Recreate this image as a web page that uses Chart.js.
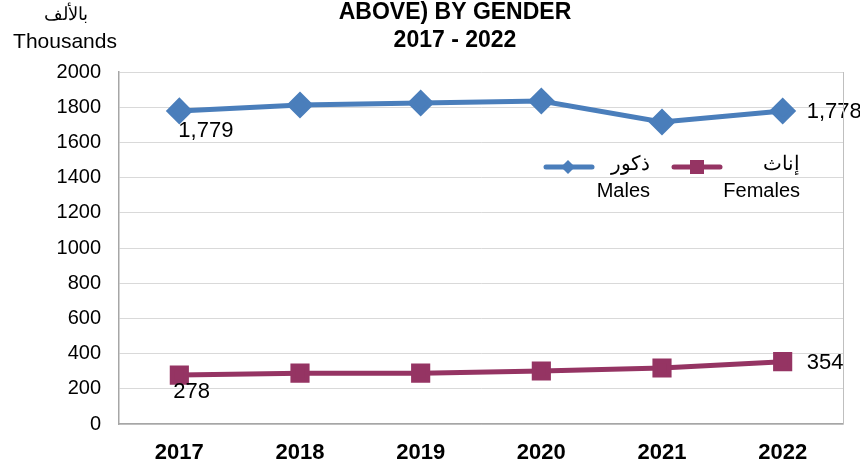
<!DOCTYPE html>
<html>
<head>
<meta charset="utf-8">
<script src="https://cdn.jsdelivr.net/npm/chart.js@4/dist/chart.umd.min.js"></script>
<style>
  body { margin: 0; background: #fff; }
  #wrap { width: 860px; height: 465px; }
</style>
</head>
<body>
<div id="wrap"><canvas id="chart"></canvas></div>
<script>
const years = ["2017", "2018", "2019", "2020", "2021", "2022"];
const males = [1779, 1812, 1824, 1835, 1716, 1778];
const females = [278, 289, 289, 301, 318, 354];
const yTicks = [0, 200, 400, 600, 800, 1000, 1200, 1400, 1600, 1800, 2000];

const maleColor = "#4a7ebb";
const femaleColor = "#953463";
const FONT = "'Liberation Sans', Arial, sans-serif";

// Title, unit label, legend and end-point labels
const overlay = {
    id: "overlay",
    afterDraw(chart) {
        const ctx = chart.ctx;
        ctx.save();
        ctx.fillStyle = "#000";
        ctx.textBaseline = "middle";

        ctx.textAlign = "center";
        ctx.font = "bold 23px " + FONT;
        ctx.fillText("ABOVE) BY GENDER", 455, 13);
        ctx.fillText("2017 - 2022", 455, 41);

        ctx.font = "18px " + FONT;
        ctx.fillText("بالألف", 66, 15);
        ctx.font = "21px " + FONT;
        ctx.fillText("Thousands", 65, 42);

        // legend
        ctx.lineWidth = 5;
        ctx.lineCap = "round";
        ctx.strokeStyle = maleColor;
        ctx.beginPath(); ctx.moveTo(546, 167); ctx.lineTo(592, 167); ctx.stroke();
        ctx.fillStyle = maleColor;
        ctx.beginPath();
        ctx.moveTo(568, 160); ctx.lineTo(575, 167); ctx.lineTo(568, 174); ctx.lineTo(561, 167);
        ctx.closePath(); ctx.fill();
        ctx.strokeStyle = femaleColor;
        ctx.beginPath(); ctx.moveTo(674, 167); ctx.lineTo(720, 167); ctx.stroke();
        ctx.fillStyle = femaleColor;
        ctx.fillRect(690, 160, 14, 14);

        ctx.fillStyle = "#000";
        ctx.textAlign = "right";
        ctx.font = "20px " + FONT;
        ctx.fillText("ذكور", 650, 164);
        ctx.fillText("إناث", 800, 164);
        ctx.fillText("Males", 650, 191);
        ctx.fillText("Females", 800, 191);

        // value labels at first and last points
        ctx.font = "22px " + FONT;
        const xs = chart.scales.x, ys = chart.scales.y;
        const fmt = v => v.toLocaleString("en-US");
        const last = years.length - 1;
        ctx.textAlign = "left";
        ctx.fillText(fmt(males[0]), xs.getPixelForValue(0) - 1, ys.getPixelForValue(males[0]) + 20);
        ctx.fillText(fmt(females[0]), xs.getPixelForValue(0) - 6, ys.getPixelForValue(females[0]) + 17);
        ctx.fillText(fmt(males[last]), xs.getPixelForValue(last) + 24, ys.getPixelForValue(males[last]) + 1);
        ctx.fillText(fmt(females[last]), xs.getPixelForValue(last) + 24, ys.getPixelForValue(females[last]) + 1);

        // right border of plot area
        ctx.strokeStyle = "#bfbfbf";
        ctx.lineWidth = 1;
        ctx.lineCap = "butt";
        ctx.beginPath();
        ctx.moveTo(chart.chartArea.right + 0.5, chart.chartArea.top);
        ctx.lineTo(chart.chartArea.right + 0.5, chart.chartArea.bottom);
        ctx.stroke();
        ctx.restore();
    }
};

new Chart(document.getElementById("chart"), {
    type: "line",
    data: {
        labels: years,
        datasets: [{
            label: "Males",
            data: males,
            borderColor: maleColor,
            backgroundColor: maleColor,
            borderWidth: 5,
            pointStyle: "rectRot",
            pointRadius: 10,
            pointHoverRadius: 10,
            tension: 0
        }, {
            label: "Females",
            data: females,
            borderColor: femaleColor,
            backgroundColor: femaleColor,
            borderWidth: 5,
            pointStyle: "rect",
            pointRadius: 10,
            pointHoverRadius: 10,
            tension: 0
        }]
    },
    options: {
        responsive: true,
        maintainAspectRatio: false,
        animation: false,
        layout: { padding: { top: 72, right: 17, left: 0, bottom: 0 } },
        plugins: {
            legend: { display: false },
            tooltip: { enabled: false },
            title: { display: false }
        },
        scales: {
            x: {
                offset: true,
                grid: { display: false, drawTicks: false },
                border: { color: "#a6a6a6", width: 1.5 },
                ticks: {
                    color: "#000",
                    padding: 16,
                    font: { family: FONT, size: 22, weight: "bold" }
                },
                afterFit(scale) { scale.height = 41; }
            },
            y: {
                min: 0,
                max: 2000,
                afterBuildTicks(scale) { scale.ticks = yTicks.map(v => ({ value: v })); },
                grid: { color: "#d9d9d9", drawTicks: false },
                border: { color: "#a6a6a6", width: 1.5 },
                ticks: {
                    color: "#000",
                    padding: 18,
                    font: { family: FONT, size: 20 },
                    callback: v => String(v)
                },
                afterFit(scale) { scale.width = 119; }
            }
        }
    },
    plugins: [overlay]
});
</script>
</body>
</html>
